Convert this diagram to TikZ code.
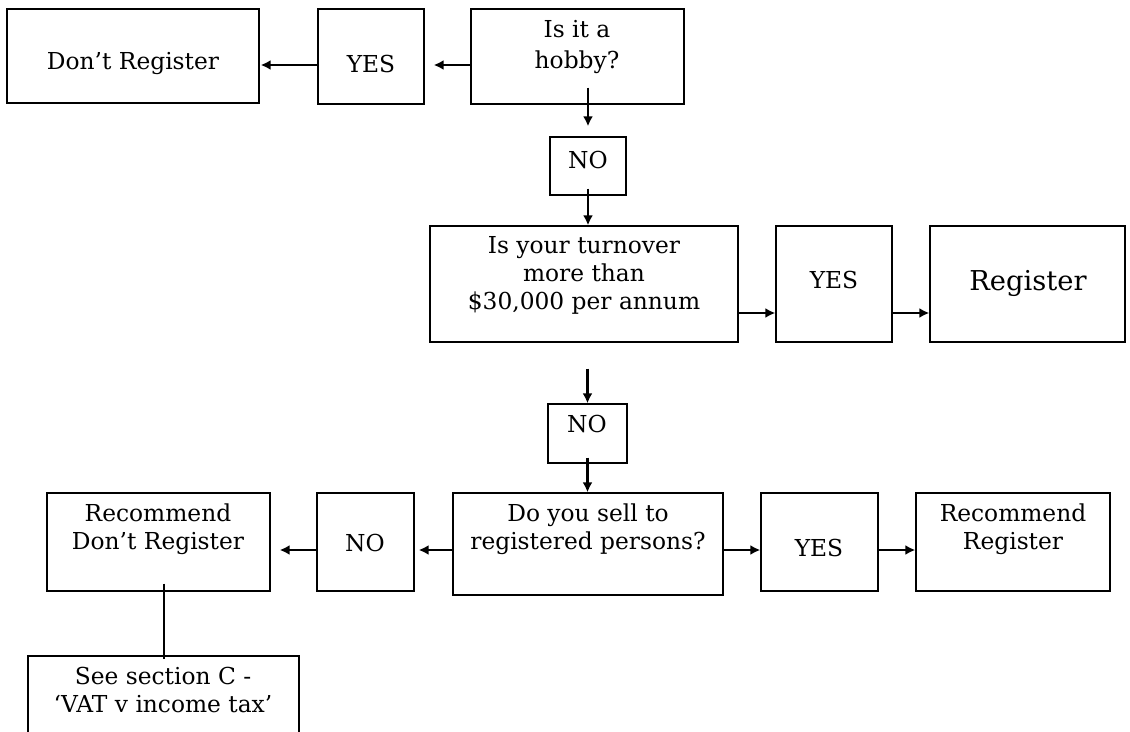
\documentclass[tikz,border=0pt]{standalone}
\usepackage{fontspec}
\setmainfont{DejaVu Serif}
\usetikzlibrary{arrows.meta,fit,calc}
\begin{document}
\begin{tikzpicture}[x=0.75pt,y=-0.75pt,
 box/.style={draw,line width=1pt,inner sep=0pt},
 txt/.style={align=center,inner sep=0pt,font=\fontsize{17.5}{21}\selectfont},
 bigtxt/.style={align=center,inner sep=0pt,font=\fontsize{20.5}{24}\selectfont},
 arr/.style={line width=1.6pt,-{Latex[length=7.5pt,width=7.5pt]}},
 ln/.style={line width=1.6pt}]
\useasboundingbox (0,0) rectangle (1130,731);
% boxes
\node[box,fit={(7,9)(259,103)}] (dont) {};
\node[box,fit={(318,9)(424,104)}] (yes1) {};
\node[box,fit={(471,9)(684,104)}] (hobby) {};
\node[box,fit={(550,137)(626,195)}] (no1) {};
\node[box,fit={(430,226)(738,342)}] (turn) {};
\node[box,fit={(776,226)(892,342)}] (yes2) {};
\node[box,fit={(930,226)(1125,342)}] (reg) {};
\node[box,fit={(548,404)(627,463)}] (no2) {};
\node[box,fit={(453,493)(723,595)}] (sell) {};
\node[box,fit={(317,493)(414,591)}] (no3) {};
\node[box,fit={(47,493)(270,591)}] (recd) {};
\node[box,fit={(761,493)(878,591)}] (yes3) {};
\node[box,fit={(916,493)(1110,591)}] (recr) {};
\node[box,fit={(28,656)(299,770)}] (see) {};
% texts
\node[txt] (dontt) at (133,64) {Don’t Register};
\node[txt] (yes1t) at (371,64) {YES};
\node[txt] (hobbyt) at (577,47) {Is it a\\[2pt]hobby?};
\node[txt] (no1t) at (588,160) {NO};
\node[txt] (turnt) at (584,275) {Is your turnover\\more than\\\$30,000 per annum};
\node[txt] (yes2t) at (834,280) {YES};
\node[bigtxt] (regt) at (1028,283) {Register};
\node[txt] (no2t) at (587,424) {NO};
\node[txt] (sellt) at (588,529) {Do you sell to\\registered persons?};
\node[txt] (no3t) at (365,543) {NO};
\node[txt] (recdt) at (158,529) {Recommend\\Don’t Register};
\node[txt] (yes3t) at (819,548) {YES};
\node[txt] (recrt) at (1013,529) {Recommend\\Register};
\node[txt] (seet) at (163,690) {See section C -\\‘VAT v income tax’};
% connectors
\draw[arr] ($(hobby.west)+(0,8.5)$) -- ($(yes1.east)+(9,8.5)$);
\draw[arr] ($(yes1.west)+(0,8.5)$) -- ($(dont.east)+(1,9)$);
\draw[arr] ($(hobby.south -| no1.north)+(0,-17)$) -- ($(no1.north)+(0,-10)$);
\draw[arr] ($(no1.south)+(0,-7)$) -- (no1.south |- turn.north);
\draw[arr] ($(turn.east)+(0,29)$) -- ($(yes2.west)+(0,29)$);
\draw[arr] ($(yes2.east)+(0,29)$) -- ($(reg.west)+(0,29)$);
\draw[arr] ($(turn.south -| no2.north)+(0,26)$) -- (no2.north);
\draw[arr] ($(no2.south)+(0,-6)$) -- (no2.south |- sell.north);
\draw[arr] ($(sell.west)+(0,6)$) -- ($(no3.east)+(4,8)$);
\draw[arr] ($(no3.west)+(0,8)$) -- ($(recd.east)+(9,8)$);
\draw[arr] ($(sell.east)+(0,6)$) -- ($(yes3.west)+(0,8)$);
\draw[arr] ($(yes3.east)+(0,8)$) -- ($(recr.west)+(0,8)$);
\draw[ln] ($(recd.south)+(5.5,-8)$) -- ($(recd.south |- see.north)+(5.5,4)$);
\end{tikzpicture}
\end{document}
